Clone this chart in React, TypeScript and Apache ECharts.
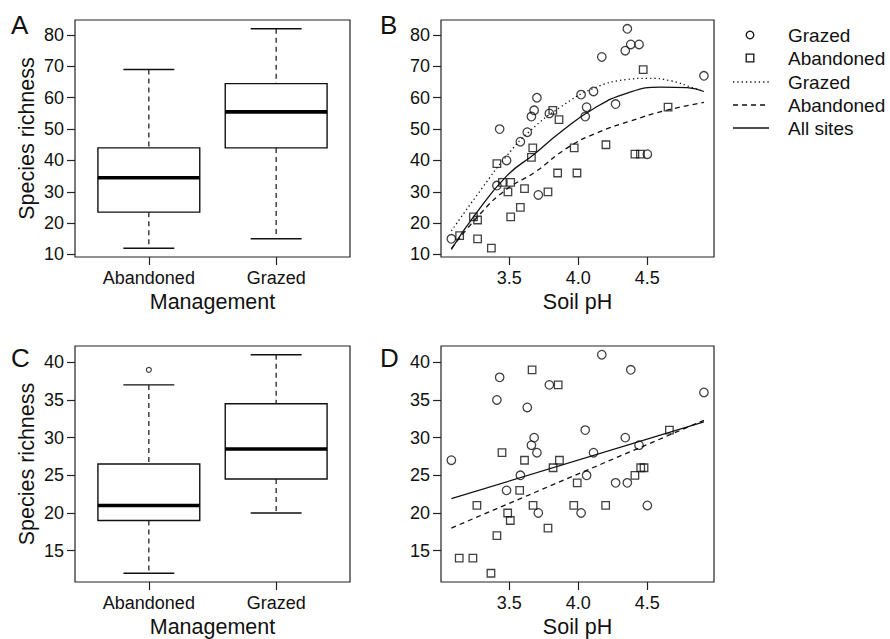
import React, { useEffect, useRef } from "react";
import * as echarts from "echarts";

// ---------- data ----------
const managementCats = ["Abandoned", "Grazed"];
const managementPos = [1, 2];

// box stats: [min, Q1, median, Q3, max]
const boxAllSites = [
  [12, 23.5, 34.5, 44, 69],
  [15, 44, 55.5, 64.5, 82],
];
const boxSubset = [
  [12, 19, 21, 26.5, 37],
  [20, 24.5, 28.5, 34.5, 41],
];
const subsetOutliers = [[1, 39]];

// Grazed sites (circles): soil pH, richness (panel B), richness (panel D)
const grazedPH = [3.08, 3.41, 3.43, 3.48, 3.58, 3.63, 3.66, 3.68, 3.7, 3.71, 3.79, 4.02, 4.05, 4.06, 4.11, 4.17, 4.27, 4.34, 4.355, 4.38, 4.44, 4.5, 4.91];
const grazedRichB = [15, 32, 50, 40, 46, 49, 54, 56, 60, 29, 55, 61, 54, 57, 62, 73, 58, 75, 82, 77, 77, 42, 67];
const grazedRichD = [27, 35, 38, 23, 25, 34, 29, 30, 28, 20, 37, 20, 31, 25, 28, 41, 24, 30, 24, 39, 29, 21, 36];

// Abandoned sites (squares), panel B
const abandonedPH_B = [3.14, 3.24, 3.27, 3.27, 3.37, 3.41, 3.45, 3.49, 3.51, 3.51, 3.58, 3.61, 3.66, 3.67, 3.78, 3.815, 3.85, 3.86, 3.97, 3.99, 4.2, 4.41, 4.45, 4.47, 4.65];
const abandonedRichB = [16, 22, 21, 15, 12, 39, 33, 30, 33, 22, 25, 31, 41, 44, 30, 56, 36, 53, 44, 36, 45, 42, 42, 69, 57];

// Abandoned sites (squares), panel D
const abandonedPH_D = [3.137, 3.236, 3.265, 3.367, 3.41, 3.447, 3.488, 3.507, 3.575, 3.61, 3.665, 3.672, 3.78, 3.817, 3.854, 3.863, 3.967, 3.992, 4.198, 4.41, 4.452, 4.476, 4.66];
const abandonedRichD = [14, 14, 21, 12, 17, 28, 20, 19, 23, 27, 39, 21, 18, 26, 37, 27, 21, 24, 21, 25, 26, 26, 31];

// fitted curves (panel B)
const fitGrazedPH_B = [3.08, 3.3, 3.48, 3.65, 3.87, 4.11, 4.35, 4.5, 4.67, 4.84, 4.91];
const fitGrazedB = [17.5, 31, 41.4, 49.4, 57, 63, 65.8, 66.2, 65.4, 63, 62];
const fitAllPH_B = [3.08, 3.24, 3.48, 3.68, 3.87, 4.11, 4.355, 4.6, 4.79, 4.91];
const fitAllB = [11.6, 22, 35, 42, 49, 56.5, 61.5, 63.4, 63.2, 62];
const fitAbandPH_B = [3.08, 3.29, 3.48, 3.68, 3.92, 4.14, 4.38, 4.62, 4.91];
const fitAbandB = [11.9, 23, 30.8, 36.1, 44, 48.9, 52.6, 55.8, 58.5];

// fitted lines (panel D)
const fitPH_D = [3.08, 4.91];
const fitAllD = [21.9, 32.1];
const fitAbandD = [18, 32.3];

// axes
const richTicksTop = [10, 20, 30, 40, 50, 60, 70, 80];
const richTicksBottom = [15, 20, 25, 30, 35, 40];
const phTicks = [3.5, 4.0, 4.5];
const richRangeTop = [9.2, 84.8];
const richRangeBottom = [10.84, 42.16];
const phRange = [3.005, 4.983];
const mgmtRange = [0.42, 2.58];

// ---------- styling ----------
const FONT = '"Liberation Sans", Arial, Helvetica, sans-serif';
const INK = "#111";
const TICK_FS = 18;
const NAME_FS = 21.5;

const zip = (a: number[], b: number[]) => a.map((v, i) => [v, b[i]]);

const grids = [
  { left: 75, top: 20, width: 275, height: 237 },
  { left: 441, top: 20, width: 273, height: 237 },
  { left: 75, top: 346, width: 275, height: 239 },
  { left: 441, top: 346, width: 273, height: 239 },
].map((g) => ({ ...g, show: true, borderColor: "#222", borderWidth: 1.2, backgroundColor: "transparent" }));

function xAx(gridIndex: number, range: number[], ticks: number[], name: string, fmt: (v: number) => string) {
  return {
    type: "value",
    gridIndex,
    min: range[0],
    max: range[1],
    axisLine: { show: false },
    splitLine: { show: false },
    axisTick: { show: true, customValues: ticks, length: 8, lineStyle: { color: "#222", width: 1.2 } },
    axisLabel: { customValues: ticks, formatter: fmt, fontSize: TICK_FS, color: INK, fontFamily: FONT, margin: 12 },
    name,
    nameLocation: "middle",
    nameGap: 34,
    nameTextStyle: { fontSize: NAME_FS, color: INK, fontFamily: FONT },
  };
}

function yAx(gridIndex: number, range: number[], ticks: number[], name: string) {
  return {
    type: "value",
    gridIndex,
    min: range[0],
    max: range[1],
    axisLine: { show: false },
    splitLine: { show: false },
    axisTick: { show: true, customValues: ticks, length: 8, lineStyle: { color: "#222", width: 1.2 } },
    axisLabel: { customValues: ticks, fontSize: TICK_FS, color: INK, fontFamily: FONT, margin: 11 },
    name,
    nameLocation: "middle",
    nameGap: 37,
    nameTextStyle: { fontSize: NAME_FS, color: INK, fontFamily: FONT },
  };
}

function boxRender(params: any, api: any) {
  const x = api.value(0);
  const lo = api.value(1), q1 = api.value(2), med = api.value(3), q3 = api.value(4), hi = api.value(5);
  const half = api.size([0.4, 0])[0];
  const capHalf = api.size([0.2, 0])[0];
  const pLo = api.coord([x, lo]);
  const pQ1 = api.coord([x, q1]);
  const pMed = api.coord([x, med]);
  const pQ3 = api.coord([x, q3]);
  const pHi = api.coord([x, hi]);
  const cx = pMed[0];
  const stroke = "#111";
  return {
    type: "group",
    children: [
      { type: "line", shape: { x1: cx, y1: pHi[1], x2: cx, y2: pQ3[1] }, style: { stroke, lineWidth: 1.2, lineDash: [5, 4] } },
      { type: "line", shape: { x1: cx, y1: pQ1[1], x2: cx, y2: pLo[1] }, style: { stroke, lineWidth: 1.2, lineDash: [5, 4] } },
      { type: "line", shape: { x1: cx - capHalf, y1: pHi[1], x2: cx + capHalf, y2: pHi[1] }, style: { stroke, lineWidth: 1.4 } },
      { type: "line", shape: { x1: cx - capHalf, y1: pLo[1], x2: cx + capHalf, y2: pLo[1] }, style: { stroke, lineWidth: 1.4 } },
      { type: "rect", shape: { x: cx - half, y: pQ3[1], width: 2 * half, height: pQ1[1] - pQ3[1] }, style: { fill: "#fff", stroke, lineWidth: 1.4 } },
      { type: "line", shape: { x1: cx - half, y1: pMed[1], x2: cx + half, y2: pMed[1] }, style: { stroke: "#000", lineWidth: 3.6 } },
    ],
  };
}

const circleStyle = { color: "rgba(0,0,0,0)", borderColor: "#111", borderWidth: 1.3 };

function scatter(name: string, xi: number, data: number[][], symbol: string, size: number) {
  return {
    type: "scatter",
    name,
    xAxisIndex: xi,
    yAxisIndex: xi,
    data,
    symbol,
    symbolSize: size,
    itemStyle: circleStyle,
    z: 3,
  };
}

function curve(name: string, xi: number, data: number[][], dash: any, smooth: boolean) {
  return {
    type: "line",
    name,
    xAxisIndex: xi,
    yAxisIndex: xi,
    data,
    smooth,
    showSymbol: false,
    symbol: "none",
    lineStyle: { color: "#111", width: 1.3, type: dash },
    z: 2,
  };
}

const legendX = 733;
const legendTextX = 788;
const legendRows = [35, 58, 82, 105, 128];

const option = {
  animation: false,
  backgroundColor: "#fff",
  textStyle: { fontFamily: FONT },
  grid: grids,
  xAxis: [
    xAx(0, mgmtRange, managementPos, "Management", (v) => managementCats[Math.round(v) - 1]),
    xAx(1, phRange, phTicks, "Soil pH", (v) => v.toFixed(1)),
    xAx(2, mgmtRange, managementPos, "Management", (v) => managementCats[Math.round(v) - 1]),
    xAx(3, phRange, phTicks, "Soil pH", (v) => v.toFixed(1)),
  ],
  yAxis: [
    yAx(0, richRangeTop, richTicksTop, "Species richness"),
    yAx(1, richRangeTop, richTicksTop, ""),
    yAx(2, richRangeBottom, richTicksBottom, "Species richness"),
    yAx(3, richRangeBottom, richTicksBottom, ""),
  ],
  series: [
    {
      type: "custom",
      name: "boxA",
      xAxisIndex: 0,
      yAxisIndex: 0,
      renderItem: boxRender,
      encode: { x: 0, y: [1, 2, 3, 4, 5] },
      data: managementPos.map((p, i) => [p, ...boxAllSites[i]]),
    },
    {
      type: "custom",
      name: "boxC",
      xAxisIndex: 2,
      yAxisIndex: 2,
      renderItem: boxRender,
      encode: { x: 0, y: [1, 2, 3, 4, 5] },
      data: managementPos.map((p, i) => [p, ...boxSubset[i]]),
    },
    {
      type: "scatter",
      name: "outliersC",
      xAxisIndex: 2,
      yAxisIndex: 2,
      data: subsetOutliers,
      symbol: "circle",
      symbolSize: 5,
      itemStyle: { color: "rgba(0,0,0,0)", borderColor: "#111", borderWidth: 1.2 },
      z: 4,
    },
    // panel B
    scatter("Grazed", 1, zip(grazedPH, grazedRichB), "circle", 8.5),
    scatter("Abandoned", 1, zip(abandonedPH_B, abandonedRichB), "rect", 7.5),
    curve("Grazed fit", 1, zip(fitGrazedPH_B, fitGrazedB), [1.3, 3], true),
    curve("Abandoned fit", 1, zip(fitAbandPH_B, fitAbandB), [5, 4], true),
    curve("All sites fit", 1, zip(fitAllPH_B, fitAllB), "solid", true),
    // panel D
    scatter("Grazed D", 3, zip(grazedPH, grazedRichD), "circle", 8.5),
    scatter("Abandoned D", 3, zip(abandonedPH_D, abandonedRichD), "rect", 7.5),
    curve("Abandoned fit D", 3, zip(fitPH_D, fitAbandD), [5, 4], false),
    curve("All sites fit D", 3, zip(fitPH_D, fitAllD), "solid", false),
  ],
  graphic: [
    // panel letters
    { type: "text", x: 11, y: 25, style: { text: "A", fontSize: 26, fontFamily: FONT, fill: INK, verticalAlign: "middle" } },
    { type: "text", x: 380, y: 25, style: { text: "B", fontSize: 26, fontFamily: FONT, fill: INK, verticalAlign: "middle" } },
    { type: "text", x: 11, y: 358, style: { text: "C", fontSize: 26, fontFamily: FONT, fill: INK, verticalAlign: "middle" } },
    { type: "text", x: 380, y: 358, style: { text: "D", fontSize: 26, fontFamily: FONT, fill: INK, verticalAlign: "middle" } },
    // legend symbols
    { type: "circle", shape: { cx: 750, cy: legendRows[0], r: 3.8 }, style: { fill: "none", stroke: "#111", lineWidth: 1.3 } },
    { type: "rect", shape: { x: 746.2, y: legendRows[1] - 3.8, width: 7.6, height: 7.6 }, style: { fill: "none", stroke: "#111", lineWidth: 1.3 } },
    { type: "line", shape: { x1: legendX, y1: legendRows[2], x2: legendX + 36, y2: legendRows[2] }, style: { stroke: "#111", lineWidth: 1.3, lineDash: [1.3, 3] } },
    { type: "line", shape: { x1: legendX, y1: legendRows[3], x2: legendX + 36, y2: legendRows[3] }, style: { stroke: "#111", lineWidth: 1.3, lineDash: [5, 4] } },
    { type: "line", shape: { x1: legendX, y1: legendRows[4], x2: legendX + 36, y2: legendRows[4] }, style: { stroke: "#111", lineWidth: 1.3 } },
    // legend texts
    ...["Grazed", "Abandoned", "Grazed", "Abandoned", "All sites"].map((t, i) => ({
      type: "text",
      x: legendTextX,
      y: legendRows[i],
      style: { text: t, fontSize: 19, fontFamily: FONT, fill: INK, verticalAlign: "middle" },
    })),
  ],
};

export default function App() {
  const ref = useRef<HTMLDivElement>(null);
  useEffect(() => {
    if (!ref.current) return;
    const chart = echarts.init(ref.current, null, { renderer: "svg" });
    chart.setOption(option as any);
    return () => chart.dispose();
  }, []);
  return (
    <div
      ref={ref}
      style={{ position: "fixed", left: 0, top: 0, width: 890, height: 639, background: "#fff" }}
    />
  );
}
